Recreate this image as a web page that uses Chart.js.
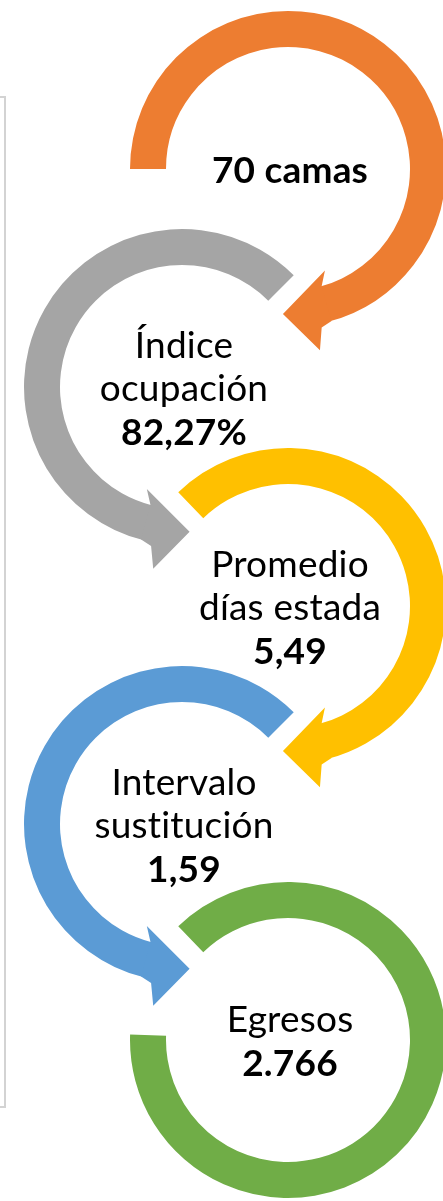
<!DOCTYPE html>
<html>
<head>
<meta charset="utf-8">
<script src="https://cdn.jsdelivr.net/npm/chart.js@4.4.1/dist/chart.umd.min.js"></script>
<style>
  html, body { margin: 0; padding: 0; background: #ffffff; width: 443px; height: 1201px; overflow: hidden; }
  #page { position: relative; width: 443px; height: 1201px; overflow: hidden; }
  .frame { position: absolute; left: -100px; top: 96px; width: 102px; height: 1008px; border: 2px solid #d3d3d3; }
  .cell { position: absolute; width: 420px; height: 420px; }
</style>
</head>
<body>
<div id="page">
  <div class="frame"></div>
</div>
<script>
// ---- data ----
const categories   = ['Camas', 'Índice ocupación', 'Promedio días estada', 'Intervalo sustitución', 'Egresos'];
const nameLines    = [[], ['Índice', 'ocupación'], ['Promedio', 'días estada'], ['Intervalo', 'sustitución'], ['Egresos']];
const valueLabels  = ['70 camas', '82,27%', '5,49', '1,59', '2.766'];
const values       = [70, 82.27, 5.49, 1.59, 2766];
const arcStartDeg  = [180, 104, 226, 104, 226];   // where each ring segment begins (clockwise, 0 = east)
const arcSweepDeg  = [255, 211, 209, 211, 316];   // how far each ring segment runs
const arrowAt      = ['end', 'start', 'end', 'start', null];

// ---- layout / style ----
const colors  = ['#ED7D31', '#A5A5A5', '#FFC000', '#5B9BD5', '#70AD47'];
const centers = [[288, 169], [182, 387], [288, 606], [182, 824], [288, 1040]];
const OUTER = 158, INNER = 122, LINE_H = 43.5, FONT = 'Lato', FONT_SIZE = 37;

const arrowPlugin = {
  id: 'arrowHead',
  afterDatasetsDraw(chart, args, opts) {
    if (!opts.at) return;
    const arc = chart.getDatasetMeta(0).data[0];
    const p = arc.getProps(['x', 'y', 'innerRadius', 'outerRadius', 'startAngle', 'endAngle'], true);
    const dir = opts.at === 'end' ? 1 : -1;
    const th = dir > 0 ? p.endAngle : p.startAngle;
    const D = Math.PI / 180 * dir;
    const ri = p.innerRadius, ro = p.outerRadius, rm = (ri + ro) / 2;
    const pt = (r, a) => [p.x + r * Math.cos(a), p.y + r * Math.sin(a)];
    const pts = [
      pt(ri, th - 1 * D),
      pt(ri - 14, th - 5 * D),
      pt(rm + 5, th + 17 * D),
      pt(ro + 26, th + 5 * D),
      pt(ro + 4, th + 3 * D),
      pt(ro, th - 1 * D)
    ];
    const ctx = chart.ctx;
    ctx.save();
    ctx.fillStyle = opts.color;
    ctx.beginPath();
    pts.forEach((q, i) => i ? ctx.lineTo(q[0], q[1]) : ctx.moveTo(q[0], q[1]));
    ctx.closePath();
    ctx.fill();
    ctx.restore();
  }
};

const textPlugin = {
  id: 'centerText',
  afterDraw(chart, args, opts) {
    const arc = chart.getDatasetMeta(0).data[0];
    const lines = opts.lines;
    const ctx = chart.ctx;
    ctx.save();
    ctx.textAlign = 'center';
    ctx.textBaseline = 'alphabetic';
    ctx.fillStyle = '#000000';
    try { ctx.letterSpacing = '0.2px'; } catch (e) {}
    const n = lines.length;
    lines.forEach((ln, i) => {
      const by = arc.y + 14 + (i - (n - 1) / 2) * LINE_H;
      ctx.font = (ln.bold ? 'bold ' : '') + opts.size + 'px ' + FONT;
      ctx.fillText(ln.text, arc.x + 2, by);
    });
    ctx.restore();
  }
};

const page = document.getElementById('page');
categories.forEach((cat, i) => {
  const div = document.createElement('div');
  div.className = 'cell';
  div.style.left = (centers[i][0] - 210) + 'px';
  div.style.top = (centers[i][1] - 210) + 'px';
  const cv = document.createElement('canvas');
  cv.width = 420; cv.height = 420;
  div.appendChild(cv);
  page.appendChild(div);

  const lines = nameLines[i].map(t => ({ text: t, bold: false }));
  lines.push({ text: valueLabels[i], bold: true });

  new Chart(cv, {
    type: 'doughnut',
    data: {
      labels: [cat, ''],
      datasets: [{
        data: [arcSweepDeg[i], 360 - arcSweepDeg[i]],
        backgroundColor: [colors[i], 'rgba(0,0,0,0)'],
        borderWidth: 0,
        hoverOffset: 0
      }]
    },
    options: {
      responsive: false,
      animation: false,
      events: [],
      rotation: arcStartDeg[i] + 90,
      circumference: 360,
      radius: OUTER,
      cutout: (INNER / OUTER * 100) + '%',
      layout: { padding: 0 },
      plugins: {
        legend: { display: false },
        tooltip: { enabled: false },
        arrowHead: { at: arrowAt[i], color: colors[i] },
        centerText: { lines: lines, size: FONT_SIZE }
      }
    },
    plugins: [arrowPlugin, textPlugin]
  });
});
</script>
</body>
</html>
